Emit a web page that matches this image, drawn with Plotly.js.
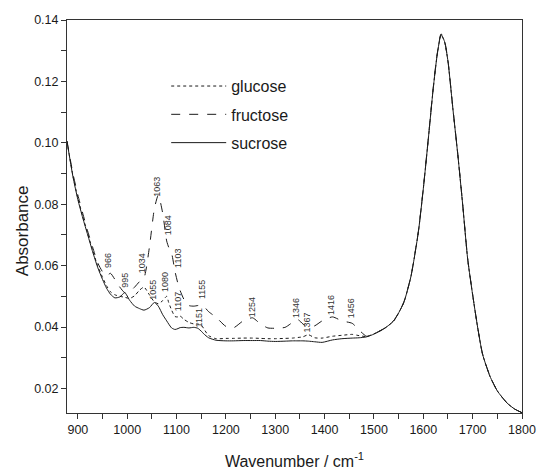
<!DOCTYPE html>
<html>
<head>
<meta charset="utf-8">
<script src="https://cdn.plot.ly/plotly-3.0.1.min.js"></script>
<style>html,body{margin:0;padding:0;background:#fff;}#chart{width:537px;height:476px;}</style>
</head>
<body>
<div id="chart"></div>
<script>
const wavenumber = [878, 890, 900, 910, 920, 930, 940, 950, 958, 966, 975, 985, 995, 1005, 1015, 1025, 1034, 1045, 1055, 1063, 1072, 1080, 1084, 1090, 1097, 1103, 1107, 1115, 1125, 1135, 1143, 1151, 1155, 1165, 1180, 1200, 1215, 1235, 1254, 1270, 1285, 1300, 1320, 1335, 1346, 1356, 1367, 1380, 1395, 1416, 1435, 1456, 1470, 1485, 1500, 1520, 1540, 1560, 1575, 1590, 1600, 1610, 1620, 1628, 1636, 1643, 1650, 1660, 1670, 1680, 1690, 1700, 1710, 1720, 1735, 1750, 1770, 1785, 1800];

const sucrose = [0.1005, 0.0890, 0.0815, 0.0755, 0.0700, 0.0645, 0.0595, 0.0555, 0.0527, 0.0507, 0.0495, 0.0498, 0.0512, 0.0487, 0.0468, 0.0460, 0.0455, 0.0463, 0.0480, 0.0468, 0.0440, 0.0420, 0.0410, 0.0397, 0.0392, 0.0395, 0.0398, 0.0399, 0.0397, 0.0399, 0.0396, 0.0385, 0.0378, 0.0365, 0.0357, 0.0355, 0.0355, 0.0356, 0.0356, 0.0356, 0.0354, 0.0353, 0.0354, 0.0355, 0.0355, 0.0355, 0.0354, 0.0352, 0.0350, 0.0358, 0.0362, 0.0364, 0.0365, 0.0368, 0.0377, 0.0394, 0.0420, 0.0478, 0.0565, 0.0710, 0.0850, 0.1010, 0.1175, 0.1285, 0.1352, 0.1330, 0.1265, 0.1110, 0.0960, 0.0795, 0.0620, 0.0505, 0.0400, 0.0312, 0.0240, 0.0192, 0.0152, 0.0133, 0.0121];

const fructose = [0.1005, 0.0900, 0.0830, 0.0770, 0.0712, 0.0660, 0.0610, 0.0580, 0.0567, 0.0575, 0.0555, 0.0530, 0.0512, 0.0515, 0.0530, 0.0548, 0.0560, 0.0660, 0.0785, 0.0830, 0.0770, 0.0680, 0.0660, 0.0640, 0.0580, 0.0540, 0.0520, 0.0490, 0.0470, 0.0468, 0.0470, 0.0472, 0.0468, 0.0450, 0.0432, 0.0402, 0.0397, 0.0420, 0.0430, 0.0410, 0.0397, 0.0396, 0.0399, 0.0415, 0.0424, 0.0410, 0.0400, 0.0404, 0.0420, 0.0433, 0.0420, 0.0412, 0.0390, 0.0370, 0.0378, 0.0395, 0.0421, 0.0479, 0.0566, 0.0712, 0.0852, 0.1012, 0.1178, 0.1288, 0.1355, 0.1333, 0.1267, 0.1112, 0.0962, 0.0797, 0.0622, 0.0506, 0.0401, 0.0313, 0.0241, 0.0192, 0.0152, 0.0133, 0.0121];

const glucose = [0.1005, 0.0893, 0.0820, 0.0760, 0.0704, 0.0650, 0.0600, 0.0562, 0.0535, 0.0515, 0.0505, 0.0500, 0.0497, 0.0493, 0.0502, 0.0520, 0.0530, 0.0505, 0.0482, 0.0476, 0.0486, 0.0500, 0.0480, 0.0455, 0.0434, 0.0433, 0.0436, 0.0425, 0.0415, 0.0410, 0.0410, 0.0405, 0.0395, 0.0372, 0.0362, 0.0363, 0.0363, 0.0364, 0.0364, 0.0363, 0.0362, 0.0362, 0.0363, 0.0364, 0.0366, 0.0368, 0.0375, 0.0365, 0.0364, 0.0370, 0.0373, 0.0376, 0.0372, 0.0369, 0.0378, 0.0394, 0.0420, 0.0478, 0.0565, 0.0710, 0.0850, 0.1010, 0.1175, 0.1285, 0.1352, 0.1330, 0.1265, 0.1110, 0.0960, 0.0795, 0.0620, 0.0505, 0.0400, 0.0312, 0.0240, 0.0192, 0.0152, 0.0133, 0.0121];

const seriesNames = ['glucose', 'fructose', 'sucrose'];

const peakLabels = ['966', '995', '1034', '1055', '1063', '1084', '1080', '1103', '1107', '1155', '1151', '1254', '1346', '1367', '1416', '1456'];
const peakLabelX = [961, 995, 1030, 1052, 1060, 1083, 1077, 1103, 1103, 1152, 1146, 1253, 1342, 1365, 1413, 1454];
const peakLabelY = [0.0618, 0.0553, 0.0608, 0.0521, 0.0856, 0.0732, 0.0547, 0.0622, 0.0481, 0.0521, 0.0429, 0.0465, 0.0462, 0.0416, 0.0472, 0.0462];

const FONT = 'Liberation Sans, Arial, Helvetica, sans-serif';
const INK = '#1a1a1a';

const traces = [
  {x: wavenumber, y: glucose, name: seriesNames[0], legendgroup: 'g', mode: 'lines',
   line: {color: INK, width: 1, dash: 'dot', shape: 'spline', smoothing: 0.6}},
  {x: wavenumber, y: fructose, name: seriesNames[1], legendgroup: 'f', mode: 'lines',
   line: {color: INK, width: 1, dash: 'dash', shape: 'spline', smoothing: 0.6}},
  {x: wavenumber, y: sucrose, name: seriesNames[2], legendgroup: 's', mode: 'lines',
   line: {color: INK, width: 1, dash: 'solid', shape: 'spline', smoothing: 0.6}}
];

const annotations = peakLabels.map((t, i) => ({
  x: peakLabelX[i], y: peakLabelY[i], xref: 'x', yref: 'y', text: t,
  showarrow: false, textangle: -90, font: {family: FONT, size: 9, color: '#333'}
}));
annotations.push({
  x: -0.099, y: 0.465, xref: 'paper', yref: 'paper', xanchor: 'center', yanchor: 'middle',
  text: 'Absorbance', showarrow: false, textangle: -90,
  font: {family: FONT, size: 17, color: INK}
});

const layout = {
  width: 537, height: 476,
  margin: {l: 67, r: 15.3, t: 20, b: 63.3},
  paper_bgcolor: '#fff', plot_bgcolor: '#fff',
  font: {family: FONT, color: INK},
  showlegend: true,
  legend: {x: 0.218, y: 0.875, xanchor: 'left', yanchor: 'top', bgcolor: 'rgba(0,0,0,0)',
           font: {family: FONT, size: 16, color: INK}, itemwidth: 55,
           traceorder: 'grouped', tracegroupgap: 4.5},
  xaxis: {
    range: [878, 1800], tick0: 900, dtick: 100, ticks: 'outside', ticklen: 5, tickwidth: 1,
    tickcolor: '#333', showline: true, linecolor: '#333', linewidth: 1, mirror: true,
    showgrid: false, zeroline: false, tickfont: {family: FONT, size: 12.5, color: INK},
    minor: {dtick: 50, ticks: 'outside', ticklen: 5, tickcolor: '#333', showgrid: false},
    title: {text: 'Wavenumber / cm<sup>-1</sup>', font: {family: FONT, size: 16, color: INK}, standoff: 19}
  },
  yaxis: {
    range: [0.012, 0.14], tick0: 0, dtick: 0.02, tickformat: '.2f', ticks: 'outside', ticklen: 5,
    tickwidth: 1, tickcolor: '#333', showline: true, linecolor: '#333', linewidth: 1, mirror: true,
    showgrid: false, zeroline: false, tickfont: {family: FONT, size: 12.5, color: INK},
    minor: {dtick: 0.01, ticks: 'outside', ticklen: 5, tickcolor: '#333', showgrid: false}
  },
  annotations: annotations
};

Plotly.newPlot('chart', traces, layout, {staticPlot: true, displayModeBar: false});
</script>
</body>
</html>
